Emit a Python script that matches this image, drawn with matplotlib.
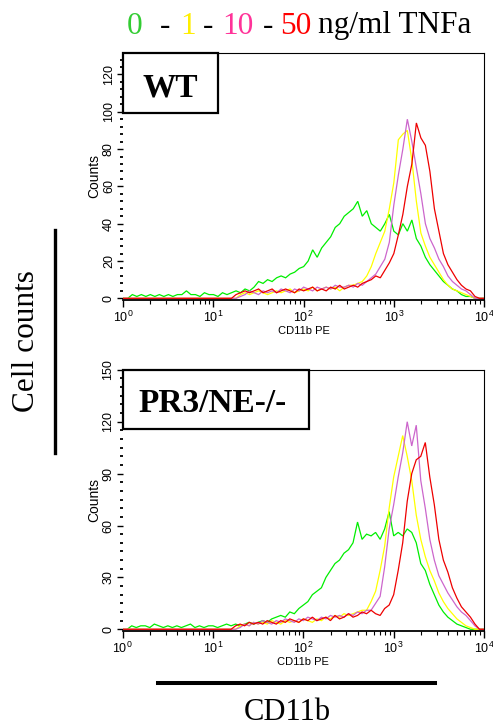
import numpy as np
import matplotlib
matplotlib.use('Agg')
import matplotlib.pyplot as plt
from matplotlib import font_manager
from matplotlib.patches import Rectangle
from matplotlib.lines import Line2D
from matplotlib.ticker import MultipleLocator, LogLocator, NullFormatter, FuncFormatter

# ---------------- data ----------------
# log10 of CD11b PE fluorescence channel
log_intensity = [0.00, 0.05, 0.10, 0.15, 0.20, 0.25, 0.30, 0.35, 0.40, 0.45,
                 0.50, 0.55, 0.60, 0.65, 0.70, 0.75, 0.80, 0.85, 0.90, 0.95,
                 1.00, 1.05, 1.10, 1.15, 1.20, 1.25, 1.30, 1.35, 1.40, 1.45,
                 1.50, 1.55, 1.60, 1.65, 1.70, 1.75, 1.80, 1.85, 1.90, 1.95,
                 2.00, 2.05, 2.10, 2.15, 2.20, 2.25, 2.30, 2.35, 2.40, 2.45,
                 2.50, 2.55, 2.60, 2.65, 2.70, 2.75, 2.80, 2.85, 2.90, 2.95,
                 3.00, 3.05, 3.10, 3.15, 3.20, 3.25, 3.30, 3.35, 3.40, 3.45,
                 3.50, 3.55, 3.60, 3.65, 3.70, 3.75, 3.80, 3.85, 3.90, 3.95,
                 4.00]

doses = ['0', '1', '10', '50']
dose_colors = ['#00ee00', '#ffff00', '#cc66cc', '#ee0000']
title_colors = ['#33cc33', '#ffee00', '#ff3399', '#ff0000']

wt_0 = [0, 0, 2, 1, 2, 1, 2, 1, 2, 1,
        2, 1, 2, 2, 4, 2, 2, 1, 3, 2,
        2, 1, 3, 2, 3, 4, 3, 5, 4, 6,
        9, 8, 10, 9, 11, 12, 11, 13, 14, 16,
        17, 20, 26, 22, 27, 30, 33, 38, 40, 44,
        46, 48, 52, 44, 47, 40, 38, 36, 40, 45,
        36, 34, 40, 36, 42, 32, 28, 22, 18, 15,
        12, 9, 7, 5, 4, 2, 1, 1, 0, 0,
        0]
wt_1 = [0, 0, 0, 0, 0, 0, 0, 0, 0, 0,
        0, 0, 0, 0, 0, 0, 0, 0, 0, 0,
        0, 0, 0, 0, 0, 0, 2, 3, 2, 3,
        4, 3, 2, 3, 4, 3, 4, 5, 3, 4,
        5, 4, 6, 4, 5, 6, 5, 6, 4, 6,
        7, 7, 8, 9, 12, 17, 24, 30, 36, 48,
        62, 85, 88, 90, 74, 52, 35, 28, 22, 18,
        14, 10, 7, 5, 4, 3, 2, 1, 0, 0,
        0]
wt_10 = [0, 0, 0, 0, 0, 0, 0, 0, 0, 0,
         0, 0, 0, 0, 0, 0, 0, 0, 0, 0,
         0, 0, 0, 0, 0, 0, 1, 2, 4, 3,
         2, 4, 3, 4, 3, 5, 4, 3, 5, 4,
         6, 5, 4, 6, 5, 6, 5, 7, 6, 6,
         7, 6, 8, 7, 9, 11, 13, 17, 21, 30,
         50, 66, 80, 96, 84, 70, 56, 40, 32, 27,
         21, 17, 12, 9, 7, 5, 4, 2, 0, 0,
         0]
wt_50 = [0, 0, 0, 0, 0, 0, 0, 0, 0, 0,
         0, 0, 0, 0, 0, 0, 0, 0, 0, 0,
         0, 0, 0, 0, 0, 2, 3, 4, 3, 4,
         5, 3, 4, 5, 3, 4, 5, 4, 3, 5,
         4, 5, 6, 4, 5, 4, 6, 5, 7, 5,
         6, 7, 6, 8, 9, 10, 12, 11, 15, 19,
         24, 34, 45, 60, 72, 94, 86, 82, 68, 48,
         36, 24, 18, 14, 10, 7, 5, 4, 1, 0,
         0]

ko_0 = [0, 0, 2, 1, 2, 2, 1, 3, 2, 1,
        2, 1, 2, 1, 2, 3, 1, 2, 1, 2,
        2, 1, 2, 3, 2, 3, 2, 3, 4, 3,
        4, 5, 4, 6, 7, 8, 7, 10, 9, 12,
        14, 16, 20, 22, 24, 30, 34, 38, 40, 44,
        46, 50, 62, 52, 55, 54, 56, 52, 58, 68,
        54, 56, 54, 58, 56, 50, 38, 34, 26, 20,
        14, 10, 7, 5, 3, 2, 1, 0, 0, 0,
        0]
ko_1 = [0, 0, 0, 0, 0, 0, 0, 0, 0, 0,
        0, 0, 0, 0, 0, 0, 0, 0, 0, 0,
        0, 0, 0, 0, 0, 0, 2, 3, 2, 4,
        3, 4, 3, 5, 4, 3, 5, 4, 5, 4,
        6, 5, 4, 6, 5, 7, 6, 8, 7, 9,
        8, 9, 10, 11, 11, 16, 22, 34, 48, 70,
        88, 100, 112, 100, 86, 66, 52, 42, 34, 28,
        21, 16, 12, 9, 6, 4, 2, 1, 0, 0,
        0]
ko_10 = [0, 0, 0, 0, 0, 0, 0, 0, 0, 0,
         0, 0, 0, 0, 0, 0, 0, 0, 0, 0,
         0, 0, 0, 0, 0, 0, 1, 3, 2, 4,
         3, 5, 4, 3, 5, 4, 6, 5, 4, 6,
         5, 7, 6, 5, 7, 6, 8, 7, 8, 7,
         9, 8, 10, 9, 11, 11, 15, 19, 36, 58,
         72, 88, 102, 120, 106, 118, 86, 70, 52, 40,
         31, 26, 21, 17, 13, 10, 8, 5, 2, 0,
         0]
ko_50 = [0, 0, 0, 0, 0, 0, 0, 0, 0, 0,
         0, 0, 0, 0, 0, 0, 0, 0, 0, 0,
         0, 0, 0, 0, 0, 2, 3, 2, 4, 3,
         4, 3, 5, 4, 3, 5, 4, 6, 5, 4,
         6, 5, 7, 5, 6, 7, 5, 8, 6, 7,
         9, 7, 8, 10, 9, 11, 9, 8, 12, 14,
         20, 34, 50, 74, 90, 98, 100, 108, 88, 72,
         52, 40, 33, 24, 18, 13, 10, 7, 3, 0,
         0]

panel_labels = ['WT', 'PR3/NE-/-']
panel_series = [[wt_0, wt_1, wt_10, wt_50], [ko_0, ko_1, ko_10, ko_50]]
panel_ymax = [131.5, 150.2]
panel_ymin = [-0.9, -1.0]
panel_major = [20, 30]
panel_minor = [4, 5]

# ---------------- fonts ----------------
names = {f.name for f in font_manager.fontManager.ttflist}
sans = 'Liberation Sans Narrow' if 'Liberation Sans Narrow' in names else 'Liberation Sans'
serif = 'Liberation Serif'
plt.rcParams['font.family'] = [sans, 'DejaVu Sans']

W, H = 493, 728
fig = plt.figure(figsize=(W / 100, H / 100), dpi=100)


def fx(px):
    return px / W


def fy(py):
    return 1 - py / H


axes_px = [(123.3, 53.0, 484.0, 300.0), (122.7, 369.5, 484.0, 631.0)]
box_px = [(217.7, 113.3), (309.0, 429.3)]
label_px = [(170.5, 96.7), (212.5, 411.7)]

x_vals = 10 ** np.array(log_intensity)

for k in range(2):
    x0, y0, x1, y1 = axes_px[k]
    ax = fig.add_axes([fx(x0), fy(y1), (x1 - x0) / W, (y1 - y0) / H])
    for series, col in zip(panel_series[k], dose_colors):
        ax.plot(x_vals, series, color=col, lw=0.9, solid_joinstyle='miter')
    ax.set_xscale('log')
    ax.set_xlim(1, 1e4)
    ax.set_ylim(panel_ymin[k], panel_ymax[k])
    ax.spines['left'].set_visible(False)
    ax.spines['top'].set_linewidth(0.8)
    ax.spines['right'].set_linewidth(0.8)
    ax.spines['bottom'].set_linewidth(1.3)
    ax.yaxis.set_major_locator(MultipleLocator(panel_major[k]))
    ax.yaxis.set_minor_locator(MultipleLocator(panel_minor[k]))
    ax.tick_params(axis='y', which='major', direction='out', length=4, width=1,
                   labelsize=9, pad=2, labelrotation=90)
    ax.tick_params(axis='y', which='minor', direction='out', length=2, width=1.3)
    for t in ax.get_yticklabels():
        t.set_va('center')
    ax.xaxis.set_major_locator(LogLocator(base=10, numticks=10))
    ax.xaxis.set_minor_locator(LogLocator(base=10, subs=range(2, 10), numticks=100))
    ax.xaxis.set_minor_formatter(NullFormatter())
    ax.xaxis.set_major_formatter(FuncFormatter(
        lambda v, p: r'$\mathregular{10^{%d}}$' % int(round(np.log10(v)))))
    ax.tick_params(axis='x', which='major', direction='out', length=5, width=1,
                   labelsize=9, pad=2)
    ax.tick_params(axis='x', which='minor', direction='out', length=3, width=0.8)
    ax.set_xlabel('CD11b PE', fontsize=8, labelpad=1)
    ax.set_ylabel('Counts', fontsize=10, labelpad=1)

    bx1, by1 = box_px[k]
    bw = (bx1 - x0) / (x1 - x0)
    bh = (by1 - y0) / (y1 - y0)
    ax.add_patch(Rectangle((0, 1 - bh), bw, bh, transform=ax.transAxes,
                           facecolor='white', edgecolor='black', lw=1.6,
                           clip_on=False, zorder=5))
    lx, ly = label_px[k]
    ax.text((lx - x0) / (x1 - x0), 1 - (ly - y0) / (y1 - y0), panel_labels[k],
            transform=ax.transAxes, ha='center', va='baseline',
            fontsize=24, fontweight='bold', family=serif, zorder=6)

# title with coloured doses
title_parts = [('0', title_colors[0], 127), ('-', 'black', 160),
               ('1', title_colors[1], 180), ('-', 'black', 203),
               ('10', title_colors[2], 222), ('-', 'black', 263),
               ('50', title_colors[3], 280), ('ng/ml TNFa', 'black', 318)]
for s, c, px in title_parts:
    fig.text(fx(px), fy(33.5), s, color=c, fontsize=22.5, family=serif,
             ha='left', va='baseline')

fig.text(fx(26), fy(341), 'Cell counts', rotation=90, ha='center', va='center',
         fontsize=22.5, family=serif)
fig.text(fx(287.5), fy(719.5), 'CD11b', ha='center', va='baseline',
         fontsize=22, family=serif)

fig.add_artist(Line2D([fx(158), fx(435)], [fy(682.7), fy(682.7)], lw=2.9,
                      color='black', transform=fig.transFigure))
fig.add_artist(Line2D([fx(55), fx(55)], [fy(230), fy(453)], lw=2.4,
                      color='black', transform=fig.transFigure))

fig.savefig('out.png', dpi=100)
